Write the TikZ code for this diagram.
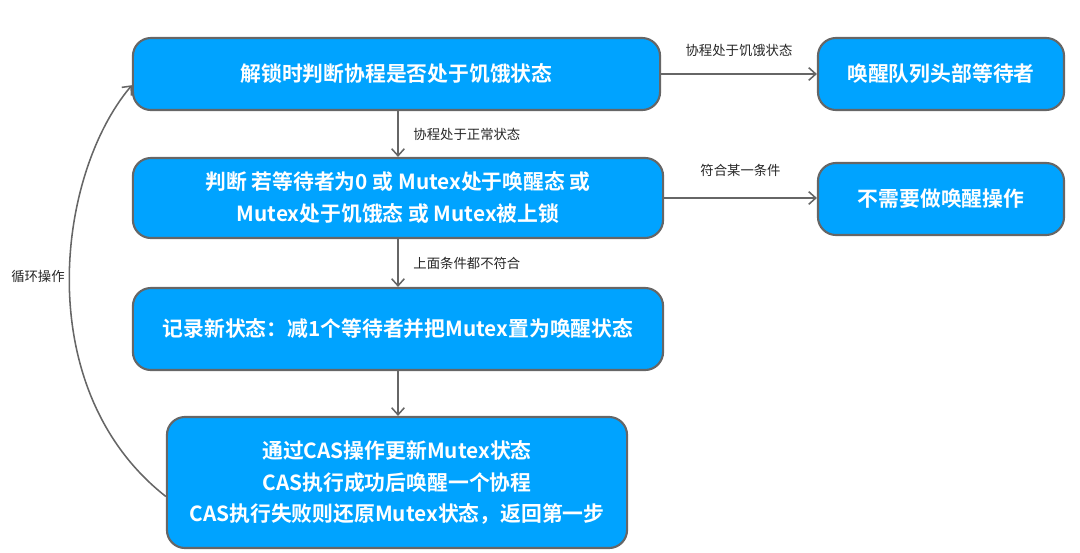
\documentclass[tikz,border=0pt]{standalone}
\usepackage{fontspec}
\setmainfont{Noto Sans CJK SC}
\newfontfamily\cjkbold{Noto Sans CJK SC Bold}
\usetikzlibrary{arrows.meta}

\begin{document}
\begin{tikzpicture}[x=0.025cm,y=-0.025cm,line width=1.1pt,>={Straight Barb[length=5pt,width=9pt]}]
  \tikzset{
    stepbox/.style={draw=black!60,line width=1.5pt,fill=boxblue,rounded corners=0.45cm,
      text=white,font=\cjkbold\fontsize{14.8}{22.7}\selectfont,align=center,inner sep=0pt},
    link/.style={draw=black!60,->},
    tag/.style={font=\fontsize{9.5}{11}\selectfont,text=black!85}
  }
  \definecolor{boxblue}{RGB}{0,163,255}
  \useasboundingbox (0,0) rectangle (1080,553);

  \node[stepbox,minimum width=13.175cm,minimum height=1.8cm] (b1) at (396.5,74) {解锁时判断协程是否处于饥饿状态};
  \node[stepbox,minimum width=6.15cm,minimum height=1.8cm] (b2) at (941,74) {唤醒队列头部等待者};
  \node[stepbox,minimum width=13.25cm,minimum height=2cm] (b3) at (398,198) {判断 若等待者为0 或 Mutex处于唤醒态 或\\Mutex处于饥饿态 或 Mutex被上锁};
  \node[stepbox,minimum width=6.15cm,minimum height=1.8cm] (b4) at (941,199) {不需要做唤醒操作};
  \node[stepbox,minimum width=13.25cm,minimum height=2.05cm] (b5) at (398,329) {记录新状态：减1个等待者并把Mutex置为唤醒状态};
  \node[stepbox,minimum width=11.5cm,minimum height=3.275cm] (b6) at (397,482.5) {通过CAS操作更新Mutex状态\\CAS执行成功后唤醒一个协程\\CAS执行失败则还原Mutex状态，返回第一步};

  \draw[link] (b1) -- (b2) node[tag,midway,above=0.3cm] {协程处于饥饿状态};
  \draw[link] (b3.east) -- (b4.west |- b3.east) node[tag,midway,above=0.4cm] {符合某一条件};
  \draw[link] (b1.south -| b3.north) -- (b3.north) node[tag,midway,right=0.25cm] {协程处于正常状态};
  \draw[link] (b3) -- (b5) node[tag,midway,right=0.25cm] {上面条件都不符合};
  \draw[link] (b5) -- (b6.north -| b5.south);

  % loop back to the first step
  \draw[link] ([yshift=-0.35cm]b6.west) .. controls (30,390) and (56,175) .. ([yshift=-0.28cm]b1.west);
  \node[tag] (loop) at (38,276) {循环操作};
\end{tikzpicture}
\end{document}
